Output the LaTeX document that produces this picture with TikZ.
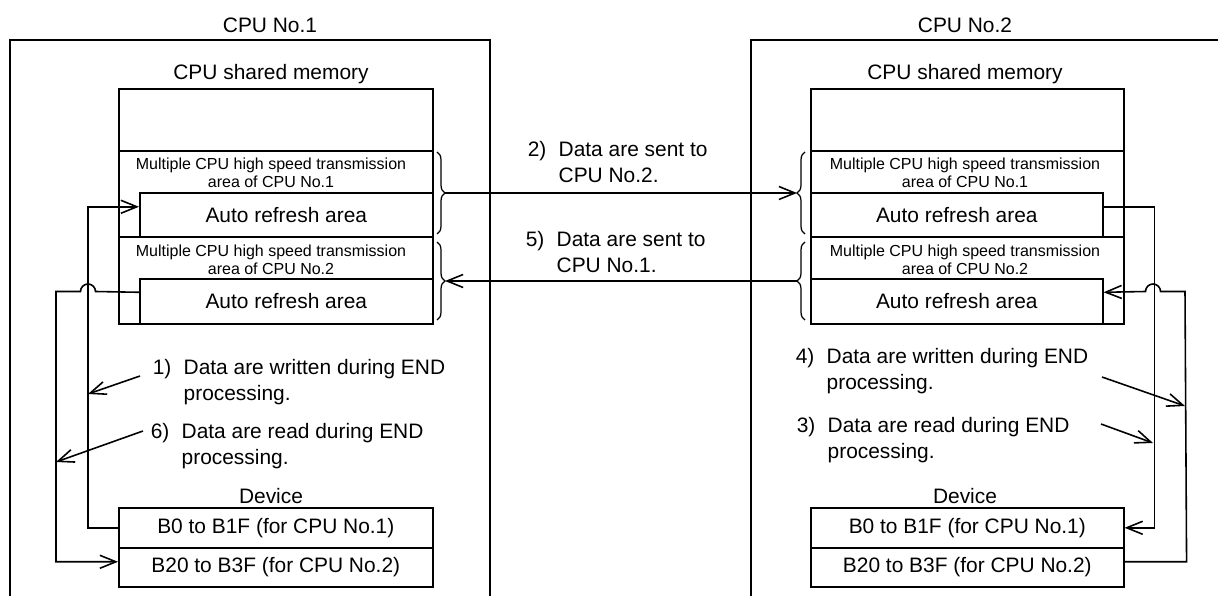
\documentclass[tikz,border=0pt]{standalone}
\usepackage{fontspec}
\setmainfont{Liberation Sans}
\usetikzlibrary{arrows.meta,decorations.pathreplacing}
\newcommand{\stepnote}[3]{\begin{tabular}{@{}l@{\hskip 7pt}l@{}}#1 & #2\\ & #3\end{tabular}}

\begin{document}
\begin{tikzpicture}[
  line width=0.9pt,
  big/.style={font=\fontsize{11.9}{14.8}\selectfont},
  small/.style={font=\fontsize{9.1}{10.2}\selectfont},
  cell/.style={draw,anchor=north west,inner sep=0pt,big},
  note/.style={anchor=west,inner sep=0pt,big},
  flow/.style={-{Straight Barb[length=3.2mm,width=2.6mm]}},
  curly/.style={decorate,decoration={brace,amplitude=1.6mm},line width=0.7pt}
]
  \useasboundingbox (0,0) rectangle (24.36,11.92);

  \draw (0.2,0) -- (0.2,11.12) -- (9.8,11.12) -- (9.8,0);
  \node[big] (cpuA) at (5.4,11.42) {CPU No.1};
  \node[big] (memAlbl) at (5.42,10.44) {CPU shared memory};
  \node[cell,minimum width=6.28cm,minimum height=1.24cm] (memA) at (2.36,10.16) {};
  \node[cell,minimum width=6.28cm,minimum height=1.72cm] (areaA1) at (2.36,8.92) {};
  \node[small,align=center] (areaA1t) at (5.42,8.46) {Multiple CPU high speed transmission\\area of CPU No.1};
  \node[cell,minimum width=5.86cm,minimum height=0.88cm] (autoA1) at (2.78,8.08) {Auto refresh area};
  \node[cell,minimum width=6.28cm,minimum height=1.74cm] (areaA2) at (2.36,7.2) {};
  \node[small,align=center] (areaA2t) at (5.42,6.72) {Multiple CPU high speed transmission\\area of CPU No.2};
  \node[cell,minimum width=5.86cm,minimum height=0.9cm] (autoA2) at (2.78,6.36) {Auto refresh area};
  \node[big] (devA) at (5.42,2.0) {Device};
  \node[cell,minimum width=6.28cm,minimum height=0.8cm] (b0A) at (2.36,1.78) {B0 to B1F (for CPU No.1)};
  \node[cell,minimum width=6.28cm,minimum height=0.78cm] (b20A) at (2.36,0.98) {B20 to B3F (for CPU No.2)};

  \draw (15.02,0) -- (15.02,11.12) -- (24.36,11.12);
  \node[big] (cpuB) at (19.3,11.42) {CPU No.2};
  \node[big] (memBlbl) at (19.3,10.44) {CPU shared memory};
  \node[cell,minimum width=6.26cm,minimum height=1.24cm] (memB) at (16.2,10.16) {};
  \node[cell,minimum width=6.26cm,minimum height=1.72cm] (areaB1) at (16.2,8.92) {};
  \node[small,align=center] (areaB1t) at (19.3,8.46) {Multiple CPU high speed transmission\\area of CPU No.1};
  \node[cell,minimum width=5.84cm,minimum height=0.88cm] (autoB1) at (16.2,8.08) {Auto refresh area};
  \node[cell,minimum width=6.26cm,minimum height=1.74cm] (areaB2) at (16.2,7.2) {};
  \node[small,align=center] (areaB2t) at (19.3,6.72) {Multiple CPU high speed transmission\\area of CPU No.2};
  \node[cell,minimum width=5.84cm,minimum height=0.9cm] (autoB2) at (16.2,6.36) {Auto refresh area};
  \node[big] (devB) at (19.3,2.0) {Device};
  \node[cell,minimum width=6.26cm,minimum height=0.8cm] (b0B) at (16.2,1.78) {B0 to B1F (for CPU No.1)};
  \node[cell,minimum width=6.26cm,minimum height=0.78cm] (b20B) at (16.2,0.98) {B20 to B3F (for CPU No.2)};

  \draw[curly] (8.74,8.88) -- (8.74,7.24);
  \draw[curly] (8.74,7.08) -- (8.74,5.52);
  \draw[curly] (16.1,7.24) -- (16.1,8.88);
  \draw[curly] (16.1,5.52) -- (16.1,7.08);
  \coordinate (tA1) at (8.9,8.06);
  \coordinate (tA2) at (8.9,6.3);
  \coordinate (tB1) at (15.94,8.06);
  \coordinate (tB2) at (15.94,6.3);

  \node[note] (n2) at (10.54,8.63) {\stepnote{2)}{Data are sent to}{CPU No.2.}};
  \node[note] (n5) at (10.5,6.83) {\stepnote{5)}{Data are sent to}{CPU No.1.}};
  \draw[flow] (tA1) -- (tB1);
  \draw[flow] (tB2) -- (tA2);

  \draw[flow] (b0A.west) -- ++(-0.6,0) |- ([yshift=1.6mm]autoA1.west);
  \draw[flow] ([yshift=1.8mm]autoA2.west) -- (1.91,6.09) arc[start angle=0,end angle=180,radius=0.15] -- (1.12,6.09) |- ([yshift=1.1mm]b20A.west);
  \draw[flow] ([yshift=1.6mm]autoB1.east) -- ++(1.02,0) |- (b0B.east);
  \draw[flow] ([yshift=1.1mm]b20B.east) -- ++(1.24,0) -- (23.7,6.09) -- (23.21,6.09) arc[start angle=0,end angle=180,radius=0.15] -- ([yshift=1.8mm]autoB2.east);

  \node[note] (n1) at (3.04,4.28) {\stepnote{1)}{Data are written during END}{processing.}};
  \node[note] (n6) at (3.0,2.99) {\stepnote{6)}{Data are read during END}{processing.}};
  \node[note] (n4) at (15.9,4.5) {\stepnote{4)}{Data are written during END}{processing.}};
  \node[note] (n3) at (15.92,3.12) {\stepnote{3)}{Data are read during END}{processing.}};
  \coordinate (s1) at (2.8,4.4);
  \coordinate (e1) at (1.76,4.04);
  \coordinate (s6) at (2.86,3.3);
  \coordinate (e6) at (1.12,2.68);
  \coordinate (s4) at (22.04,4.38);
  \coordinate (e4) at (23.7,3.8);
  \coordinate (s3) at (22.02,3.44);
  \coordinate (e3) at (23.06,3.06);
  \draw[flow] (s1) -- (e1);
  \draw[flow] (s6) -- (e6);
  \draw[flow] (s4) -- (e4);
  \draw[flow] (s3) -- (e3);
\end{tikzpicture}
\end{document}
